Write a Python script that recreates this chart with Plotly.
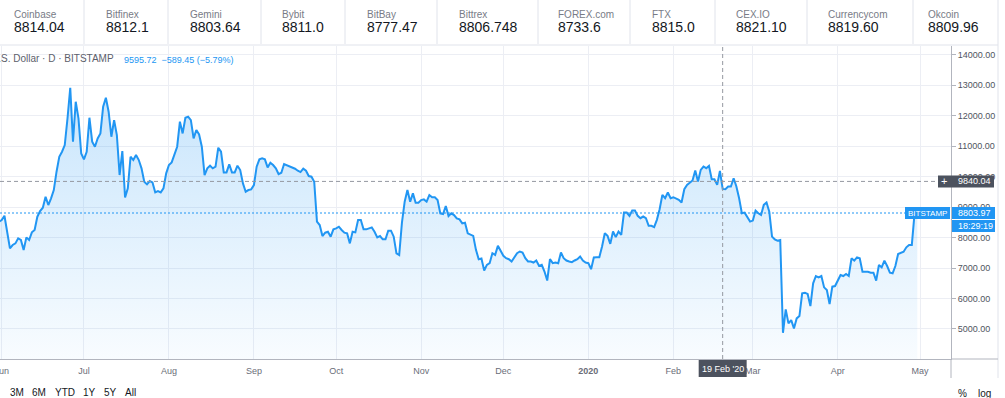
import pandas as pd
import plotly.graph_objects as go

# ---------------- data ----------------
START_DATE = "2019-05-31"
CLOSE = [
    # 2019-05-31 .. 2019-08-27
    8519, 8573, 8715, 8191, 7644, 7754, 7808, 7972, 7918, 7590,
    8005, 7918, 8169, 8245, 8683, 8868, 8978, 9338, 9065, 9284,
    9557, 10158, 10650, 10814, 11033, 11907, 12913, 11142, 12454, 11907,
    10759, 10563, 10814, 11929, 11142, 10978, 11251, 11415, 12290, 12585,
    12126, 11306, 11852, 11361, 10049, 10836, 9317, 9612, 10650, 10541,
    10705, 10541, 10268, 9830, 9743, 9852, 9808, 9481, 9524, 9481,
    9612, 10104, 10377, 10464, 10759, 10978, 11798, 11415, 11929, 11962,
    11852, 11251, 11524, 11382, 10978, 10049, 10268, 10355, 10268, 10322,
    10945, 10814, 10136, 10136, 10399, 10136, 10136, 10355, 10213,
    # 2019-08-28 .. 2019-11-18
    9776, 9503, 9557, 9579, 9721, 10322, 10563, 10596, 10563, 10300,
    10454, 10377, 10268, 10082, 10126, 10410, 10377, 10344, 10300, 10257,
    10191, 10147, 10257, 10191, 10016, 9994, 9830, 8519, 8410, 8049,
    8158, 8191, 8027, 8268, 8300, 8355, 8246, 8158, 8136, 7808,
    8191, 8169, 8574, 8574, 8268, 8268, 8300, 8333, 8191, 8005,
    8049, 7940, 7940, 8224, 8224, 8027, 7481, 7426, 8486, 9175,
    9557, 9175, 9448, 9142, 9142, 9229, 9251, 9175, 9393, 9317,
    9317, 9229, 8792, 8770, 9033, 8705, 8792, 8737, 8628, 8595,
    8464, 8486, 8136,
    # 2019-11-19 .. 2020-02-10
    8087, 8054, 7595, 7289, 7311, 6918, 7104, 7158, 7486, 7431,
    7727, 7541, 7399, 7322, 7289, 7213, 7355, 7486, 7541, 7508,
    7322, 7213, 7213, 7180, 7246, 7071, 7104, 6885, 6590, 7289,
    7158, 7180, 7158, 7508, 7322, 7246, 7213, 7191, 7246, 7289,
    7377, 7246, 7180, 7158, 6961, 7344, 7355, 7355, 7705, 8142,
    8054, 7792, 8197, 8011, 8197, 8087, 8820, 8820, 8710, 8885,
    8885, 8710, 8634, 8688, 8634, 8382, 8382, 8339, 8579, 8929,
    9399, 9290, 9475, 9290, 9322, 9290, 9235, 9147, 9585, 9727,
    9803, 9869, 10197, 9836,
    # 2020-02-11 .. 2020-04-30
    10219, 10329, 10274, 10350, 9912, 9912, 9726, 10186, 9595.72, 9584,
    9672, 9672, 9945, 9672, 9288, 8796, 8817, 8686, 8522, 8555,
    8883, 8796, 8741, 9069, 9146, 8850, 8029, 7941, 7898, 7920,
    4875, 5642, 5182, 5292, 5018, 5346, 5423, 6168, 6189, 6146,
    5751, 6496, 6737, 6693, 6737, 6365, 6277, 5817, 6387, 6408,
    6584, 6770, 6737, 6803, 6737, 7317, 7241, 7350, 7317, 6879,
    6879, 6879, 6846, 6846, 6584, 7098, 7022, 7241, 7065, 6846,
    6825, 7065, 7460, 7503, 7536, 7679, 7756, 7756, 8790, 8803.97,
]
DATES = pd.date_range(START_DATE, periods=len(CLOSE), freq="D")

EXCHANGES = ["Coinbase", "Bitfinex", "Gemini", "Bybit", "BitBay", "Bittrex",
             "FOREX.com", "FTX", "CEX.IO", "Currencycom", "Okcoin"]
EXCHANGE_PRICES = ["8814.04", "8812.1", "8803.64", "8811.0", "8777.47", "8806.748",
                   "8733.6", "8815.0", "8821.10", "8819.60", "8809.96"]

Y_TICKS = [5000, 6000, 7000, 8000, 9000, 10000, 11000, 12000, 13000, 14000]
MONTH_TICKS = ["2019-06-01", "2019-07-01", "2019-08-01", "2019-09-01", "2019-10-01",
               "2019-11-01", "2019-12-01", "2020-01-01", "2020-02-01", "2020-03-01",
               "2020-04-01", "2020-05-01"]
MONTH_LABELS = ["Jun", "Jul", "Aug", "Sep", "Oct", "Nov", "Dec", "<b>2020</b>",
                "Feb", "Mar", "Apr", "May"]

SYMBOL_TEXT = "U.S. Dollar · D · BITSTAMP"
HEADER_VALUES = "9595.72  −589.45 (−5.79%)"
CROSS_DATE = "2020-02-19"
CROSS_DATE_LABEL = "19 Feb '20"
CROSS_PRICE = 9840.04
LAST_PRICE = 8803.97
LAST_LABEL = "BITSTAMP"
COUNTDOWN = "18:29:19"
RANGE_BUTTONS = ["3M", "6M", "YTD", "1Y", "5Y", "All"]

# ---------------- layout geometry (pixels) ----------------
W, H = 1005, 398
PL, PR, PT, PB = 0, 951, 46, 359
PW, PH = PR - PL, PB - PT
Y_RANGE = [4015, 14282]
X_RANGE = ["2019-05-31 09:00", "2020-05-12 07:00"]

FONT = "Liberation Sans, Arial, sans-serif"
BLUE = "#2196f3"
DARK = "#4c525e"
GRID = "#eceef4"
BORDER = "#e0e3eb"
AXIS = "#b2b5be"
CROSS = "#9598a1"


def px(x):
    return (x - PL) / PW


def py(y):
    return (PB - y) / PH


def dy(pix):
    return pix * (Y_RANGE[1] - Y_RANGE[0]) / PH


shapes = []
annotations = []


def line_px(x0, y0, x1, y1, color, width=1, dash="solid"):
    shapes.append(dict(type="line", xref="paper", yref="paper",
                       x0=px(x0), y0=py(y0), x1=px(x1), y1=py(y1),
                       line=dict(color=color, width=width, dash=dash)))


def text_px(x, y, s, size, color, xanchor="left"):
    annotations.append(dict(xref="paper", yref="paper", x=px(x), y=py(y), text=s,
                            showarrow=False, xanchor=xanchor, yanchor="middle",
                            font=dict(size=size, color=color, family=FONT),
                            borderpad=0))


def text_price(x, price, s, size, color="white", xanchor="left"):
    annotations.append(dict(xref="paper", yref="y", x=px(x), y=price, text=s,
                            showarrow=False, xanchor=xanchor, yanchor="middle",
                            font=dict(size=size, color=color, family=FONT),
                            borderpad=0))


def box_price(x0, x1, lo, hi, color):
    shapes.append(dict(type="rect", xref="paper", yref="y", x0=px(x0), x1=px(x1),
                       y0=lo, y1=hi, fillcolor=color, line=dict(width=0), layer="above"))


fig = go.Figure()
fig.add_trace(go.Scatter(
    x=DATES, y=CLOSE, mode="lines",
    line=dict(color=BLUE, width=2),
    fill="tozeroy",
    fillgradient=dict(type="vertical",
                      colorscale=[[0, "rgba(33,150,243,0.03)"], [1, "rgba(33,150,243,0.25)"]],
                      start=Y_RANGE[0], stop=max(CLOSE)),
    hoverinfo="skip",
))

# ---- ticker bar ----
SEP_X = [84, 168, 261, 345, 437, 538, 630, 715, 807, 913]
TICK_X = [13, 105, 189, 281, 366, 458, 557, 651, 735, 827, 927]
for sx in SEP_X:
    line_px(sx, 0, sx, 44, BORDER)
line_px(0, 45, 998, 45, BORDER)
line_px(998, 0, 998, 378, BORDER)
for name, price, tx in zip(EXCHANGES, EXCHANGE_PRICES, TICK_X):
    text_px(tx, 14, name, 10, "#787b86")
    text_px(tx, 27, price, 14, "#131722")

# ---- header ----
text_px(115, 59, SYMBOL_TEXT, 10, "#5d606b", xanchor="right")
text_px(123, 60, HEADER_VALUES, 9, BLUE)

# ---- crosshair ----
shapes.append(dict(type="line", xref="x", yref="paper", x0=CROSS_DATE, x1=CROSS_DATE,
                   y0=0, y1=1, line=dict(color=CROSS, width=1, dash="4px,3px")))
shapes.append(dict(type="line", xref="paper", yref="y", x0=0, x1=px(938),
                   y0=CROSS_PRICE, y1=CROSS_PRICE,
                   line=dict(color=CROSS, width=1, dash="4px,3px")))
# ---- last price line ----
shapes.append(dict(type="line", xref="paper", yref="y", x0=0, x1=1,
                   y0=LAST_PRICE, y1=LAST_PRICE,
                   line=dict(color=BLUE, width=1, dash="2px,2px")))

# axis extensions
line_px(PR, PB, 998, PB, AXIS)
line_px(PR, PB, PR, 378, AXIS)

# crosshair price label
box_price(938, 994, CROSS_PRICE - dy(6), CROSS_PRICE + dy(6), DARK)
text_price(944, CROSS_PRICE, "+", 11, xanchor="center")
text_price(957, CROSS_PRICE, f"{CROSS_PRICE:.2f}", 9)

# last price labels
box_price(905, 950, LAST_PRICE - dy(6), LAST_PRICE + dy(6), BLUE)
text_price(927.5, LAST_PRICE, LAST_LABEL, 8, xanchor="center")
box_price(952, 995, LAST_PRICE - dy(6), LAST_PRICE + dy(6), BLUE)
text_price(957, LAST_PRICE, f"{LAST_PRICE:.2f}", 9)
box_price(952, 995, LAST_PRICE - dy(19), LAST_PRICE - dy(7), BLUE)
text_price(957, LAST_PRICE - dy(13), COUNTDOWN, 9)

# crosshair date label
shapes.append(dict(type="rect", xref="x", yref="paper",
                   x0=pd.Timestamp(CROSS_DATE) - pd.Timedelta(hours=210),
                   x1=pd.Timestamp(CROSS_DATE) + pd.Timedelta(hours=210),
                   y0=py(377), y1=py(360), fillcolor=DARK, line=dict(width=0), layer="above"))
annotations.append(dict(xref="x", yref="paper", x=CROSS_DATE, y=py(368.5),
                        text=CROSS_DATE_LABEL, showarrow=False, xanchor="center",
                        yanchor="middle", borderpad=0,
                        font=dict(size=9, color="white", family=FONT)))

# bottom toolbar
BTN_X = [9, 31, 54, 82, 103, 124]
for b, bx in zip(RANGE_BUTTONS, BTN_X):
    text_px(bx, 392, b, 10, "#131722")
text_px(957, 393, "%", 10, "#131722")
text_px(977, 393, "log", 10, "#131722")

fig.update_layout(
    width=W, height=H,
    margin=dict(l=PL, r=W - PR, t=PT, b=H - PB, pad=0, autoexpand=False),
    paper_bgcolor="white", plot_bgcolor="white",
    showlegend=False, hovermode=False,
    font=dict(family=FONT),
    shapes=shapes, annotations=annotations,
    xaxis=dict(type="date", range=X_RANGE, tickvals=MONTH_TICKS, ticktext=MONTH_LABELS,
               showgrid=True, gridcolor=GRID, gridwidth=1, zeroline=False,
               showline=True, linecolor=AXIS, linewidth=1, ticks="",
               ticklabeloverflow="allow", automargin=False, ticklabelstandoff=3,
               tickfont=dict(size=9, color="#6a6d78"), fixedrange=True),
    yaxis=dict(range=Y_RANGE, side="right", tickvals=Y_TICKS, tickformat=".2f",
               showgrid=True, gridcolor=GRID, gridwidth=1, zeroline=False,
               showline=True, linecolor=AXIS, linewidth=1, automargin=False,
               ticks="outside", ticklen=4, tickcolor=AXIS,
               tickfont=dict(size=9, color="#50535e"), fixedrange=True),
)

fig.write_html("out.html", config={"displayModeBar": False})
